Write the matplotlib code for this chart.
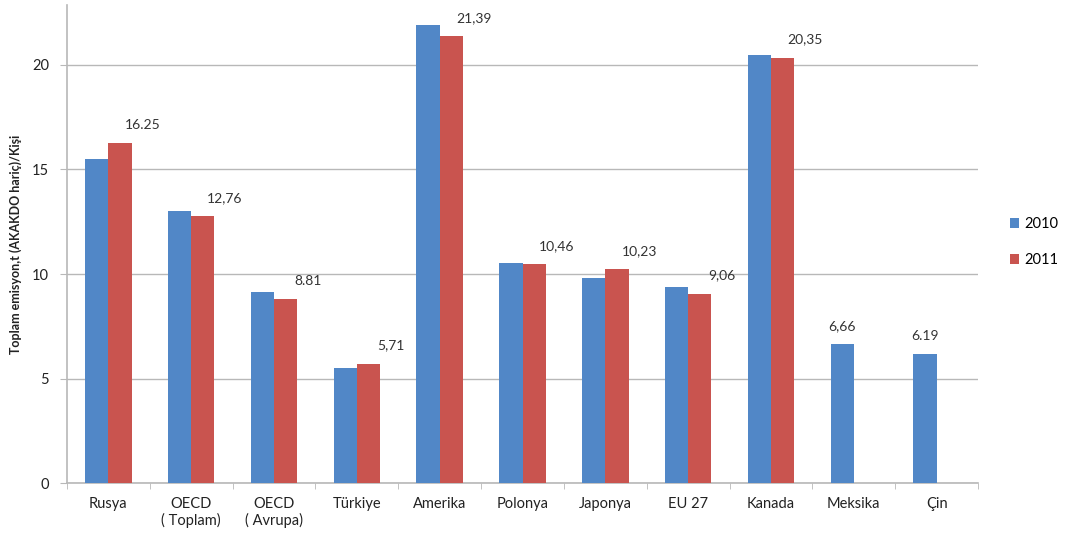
import matplotlib
matplotlib.use('Agg')
import numpy as np
import matplotlib.pyplot as plt

# data
countries = ['Rusya', 'OECD\n( Toplam)', 'OECD\n( Avrupa)', 'Türkiye', 'Amerika',
             'Polonya', 'Japonya', 'EU 27', 'Kanada', 'Meksika', 'Çin']
values_2010 = [15.5, 13.0, 9.14, 5.5, 21.9, 10.53, 9.81, 9.38, 20.5, 6.66, 6.19]
values_2011 = [16.25, 12.76, 8.81, 5.71, 21.39, 10.46, 10.23, 9.06, 20.35, np.nan, np.nan]
value_labels = ['16.25', '12,76', '8.81', '5,71', '21,39', '10,46', '10,23', '9,06',
                '20,35', '6,66', '6.19']
yticks = [0, 5, 10, 15, 20]

BLUE = '#5187C7'
RED = '#C9544F'
GRID = '#b8b8b8'

plt.rcParams['font.family'] = ['Lato', 'DejaVu Sans']

fig = plt.figure(figsize=(10.74, 5.38), dpi=100)
ax = fig.add_axes([0.0624, 0.1022, 0.8482, 0.8885])

x = np.arange(len(countries))
w = 0.28
ax.bar(x - w / 2, values_2010, w, color=BLUE, label='2010', zorder=3)
ax.bar(x + w / 2, values_2011, w, color=RED, label='2011', zorder=3)

for i in range(len(countries)):
    if np.isnan(values_2011[i]):
        ax.annotate(value_labels[i], (x[i] - w / 2, values_2010[i]),
                    xytext=(0, 13), textcoords='offset points',
                    ha='center', va='center', fontsize=10, color='#333333')
    else:
        ax.annotate(value_labels[i], (x[i] + w / 2, values_2011[i]),
                    xytext=(16, 13), textcoords='offset points',
                    ha='center', va='center', fontsize=10, color='#333333')

ax.set_xlim(-0.5, len(countries) - 0.5)
ax.set_ylim(0, 22.87)
ax.set_yticks(yticks)
ax.yaxis.grid(True, color=GRID, linewidth=1, zorder=0)
ax.set_xticks(x)
ax.set_xticklabels(countries, fontsize=10.5, color='#222222')
ax.tick_params(axis='x', length=0, pad=10)
ax.set_xticks(np.arange(-0.5, len(countries)), minor=True)
ax.tick_params(axis='x', which='minor', length=4, color=GRID, direction='out')
ax.tick_params(axis='y', length=5, color=GRID, labelsize=10.5, labelcolor='#222222', pad=8)

for s in ['top', 'right']:
    ax.spines[s].set_visible(False)
for s in ['left', 'bottom']:
    ax.spines[s].set_color(GRID)
    ax.spines[s].set_linewidth(1.2)

ax.set_ylabel('Toplam emisyon,t (AKAKDO hariç)/Kişi', fontsize=9, fontweight='bold',
              color='#222222')
ax.yaxis.set_label_coords(-0.049, 0.5)

fig.legend(loc='center left', bbox_to_anchor=(0.928, 0.55), frameon=False,
           fontsize=10.5, handlelength=0.6, handleheight=0.6, handletextpad=0.4,
           labelspacing=1.5)

fig.savefig('out.png', dpi=100)
